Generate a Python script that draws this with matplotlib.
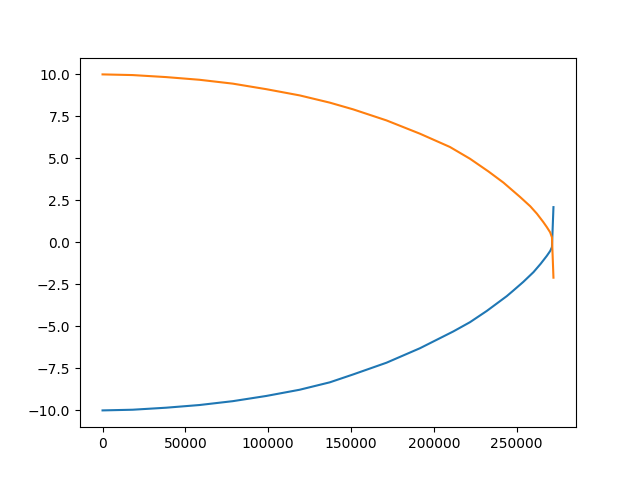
import numpy as np
import matplotlib.pyplot as plt

# values
x_blue = [0, 18150, 38350, 58500, 78650, 98850, 119000, 137150, 151250,
          171450, 191600, 211750, 221800, 231950, 244000, 248050, 254000,
          260150, 264500, 268200, 270300, 271300, 272200]
y_blue = [-10.0, -9.96, -9.84, -9.68, -9.45, -9.14, -8.77, -8.33, -7.86,
          -7.16, -6.3, -5.3, -4.75, -4.08, -3.2, -2.86, -2.35,
          -1.77, -1.27, -0.8, -0.5, -0.28, 2.1]

x_orange = [0, 18150, 38350, 58500, 78650, 98850, 119000, 137150, 151250,
            171450, 191600, 209700, 221800, 233000, 242000, 252100, 258200,
            262200, 266000, 268200, 270200, 271300, 272200]
y_orange = [10.0, 9.96, 9.84, 9.68, 9.45, 9.12, 8.75, 8.32, 7.92,
            7.26, 6.47, 5.68, 4.98, 4.22, 3.56, 2.7, 2.15,
            1.71, 1.22, 0.91, 0.6, 0.3, -2.1]

fig, ax = plt.subplots(figsize=(6.4, 4.8), dpi=100)
ax.plot(x_blue, y_blue)
ax.plot(x_orange, y_orange)
fig.savefig("out.png")
